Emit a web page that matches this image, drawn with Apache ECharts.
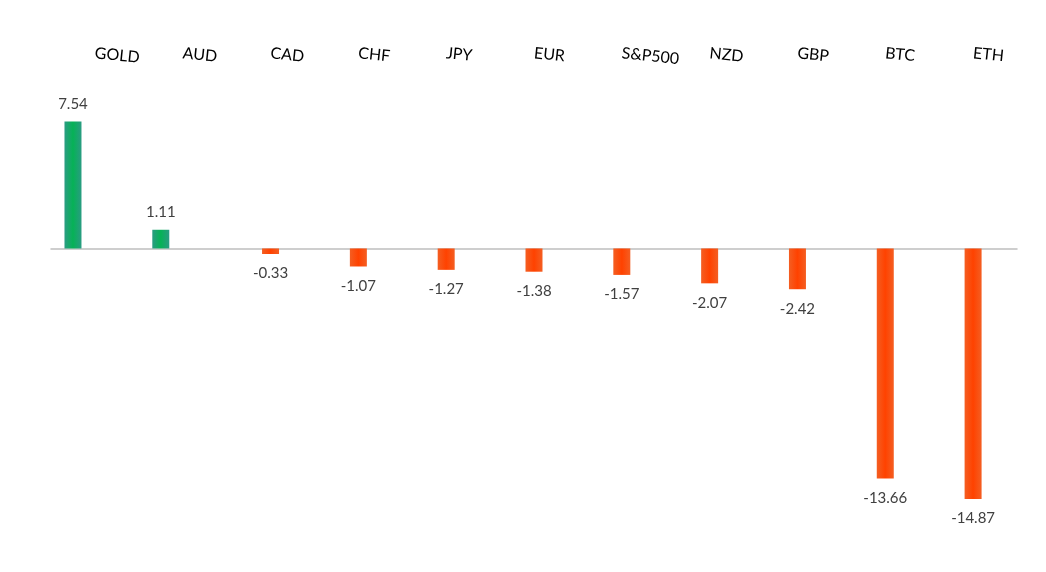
<!DOCTYPE html>
<html>
<head>
<meta charset="utf-8">
<script src="https://cdn.jsdelivr.net/npm/echarts@6/dist/echarts.min.js"></script>
<style>html,body{margin:0;padding:0;background:#fff}#c{width:1046px;height:572px}</style>
</head>
<body>
<div id="c"></div>
<script>
const categories = ['GOLD','AUD','CAD','CHF','JPY','EUR','S&P500','NZD','GBP','BTC','ETH'];
const values = [7.54, 1.11, -0.33, -1.07, -1.27, -1.38, -1.57, -2.07, -2.42, -13.66, -14.87];

const posData = values.map(v => v > 0 ? v : '-');
const negData = values.map(v => v < 0 ? v : '-');
const emptyData = values.map(() => '-');

function grad(edge, mid) {
  return {type:'linear', x:0, y:0, x2:1, y2:0, colorStops:[
    {offset:0, color:edge},{offset:0.5, color:mid},{offset:1, color:edge}]};
}
const font = 'Lato, "Open Sans", sans-serif';
function labelCfg(dist) {
  return {
    show:true, position:'outside', distance:dist, color:'#404040',
    fontFamily:font, fontSize:15,
    formatter: p => p.value.toFixed(2)
  };
}

const chart = echarts.init(document.getElementById('c'), null, {renderer:'canvas'});
chart.setOption({
  animation:false,
  grid:{left:51, right:29, top:80, bottom:54},
  xAxis:[{
    type:'category', data:categories, position:'bottom',
    axisLine:{onZero:true, lineStyle:{color:'#bfbfbf', width:1.5}},
    axisTick:{show:false}, axisLabel:{show:false}, splitLine:{show:false}
  },{
    type:'category', data:categories, position:'top',
    axisLine:{show:false}, axisTick:{show:false},
    axisLabel:{show:true, rotate:6, align:'left', verticalAlign:'middle', margin:27,
      color:'#000', fontFamily:font, fontSize:16}
  }],
  yAxis:{type:'value', min:-16, max:10, show:false, splitLine:{show:false}},
  series:[
    {type:'bar', data:posData, barWidth:17, barGap:'29%',
      itemStyle:{color:grad('#2a9c82','#06b256')}, label:labelCfg(10)},
    {type:'bar', data:negData, barWidth:17, barGap:'29%',
      itemStyle:{color:grad('#f45e22','#ff4200')}, label:labelCfg(12)},
    {type:'bar', data:emptyData, barWidth:17, barGap:'29%'}
  ]
});
</script>
</body>
</html>
